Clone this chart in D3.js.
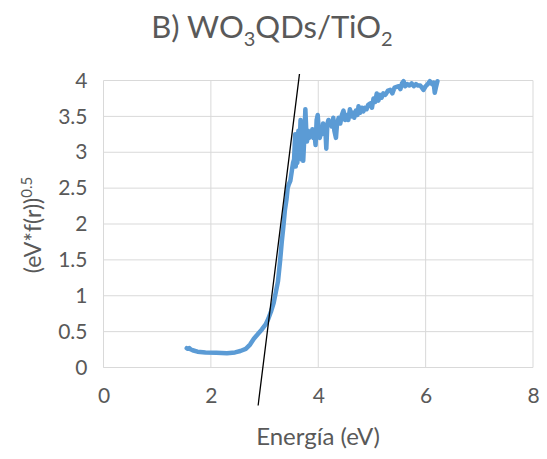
<!DOCTYPE html>
<html><head><meta charset="utf-8">
<script src="https://cdn.jsdelivr.net/npm/d3@7"></script>
<style>
body{margin:0;background:#fff;}
text{font-family:Lato,"Open Sans",sans-serif;fill:#595959;}
</style></head>
<body><svg id="c" width="547" height="459"></svg>
<script>
const energy = [1.55,1.57,1.6,1.63,1.66,1.75,1.9,2.1,2.3,2.45,2.55,2.65,2.73,2.8,2.88,2.95,3.02,3.07,3.12,3.17,3.21,3.25,3.29,3.32,3.35,3.38,3.41,3.43,3.45,3.48,3.51,3.53,
3.55,3.57,3.58,3.6,3.61,3.63,3.65,3.67,3.69,3.71,3.72,3.74,3.76,3.78,3.79,3.81,3.83,3.85,3.87,3.89,3.91,3.93,3.95,3.97,3.99,4.01,4.03,4.05,4.07,4.09,4.11,4.13,4.15,4.17,4.19,4.21,4.23,4.25,4.28,4.3,4.33,4.35,4.38,4.41,4.44,4.47,4.5,4.53,4.56,4.59,4.62,4.65,4.67,4.7,4.73,4.75,4.78,4.81,4.84,4.87,4.9,4.93,4.97,5.0,5.03,5.06,5.09,5.12,5.15,5.18,5.21,5.25,5.3,5.34,5.38,5.42,5.46,5.5,5.53,5.56,5.59,5.62,5.66,5.7,5.74,5.78,5.82,5.86,5.9,5.93,5.96,6.0,6.04,6.08,6.12,6.15,6.17,6.19,6.22];
const response = [0.27,0.26,0.27,0.25,0.24,0.22,0.21,0.205,0.2,0.21,0.23,0.26,0.32,0.4,0.47,0.53,0.6,0.68,0.78,0.9,1.05,1.2,1.49,1.75,1.96,2.2,2.35,2.5,2.55,2.6,2.75,2.85,
2.9,3.25,2.8,3.1,2.85,3.3,3.0,3.45,2.9,3.3,2.88,3.2,3.6,3.25,3.15,3.3,3.2,3.28,3.22,3.32,3.2,3.25,3.1,3.45,3.52,3.3,3.2,3.35,3.25,3.4,3.28,3.35,3.05,3.4,3.45,3.38,3.4,3.36,3.48,3.3,3.2,3.4,3.48,3.4,3.52,3.58,3.45,3.52,3.45,3.6,3.5,3.55,3.48,3.58,3.52,3.64,3.55,3.62,3.57,3.62,3.6,3.66,3.68,3.62,3.75,3.7,3.82,3.72,3.8,3.76,3.82,3.8,3.86,3.87,3.82,3.9,3.91,3.92,3.88,3.96,3.99,3.92,3.95,3.93,3.96,3.92,3.95,3.93,3.93,3.9,3.87,3.92,3.95,3.99,3.95,3.97,3.83,3.9,3.99];
const tangentX = [2.88, 3.65];
const tangentY = [-0.53, 4.09];
const xTicks = [0,2,4,6,8];
const yTicks = [0,0.5,1,1.5,2,2.5,3,3.5,4];

const svg = d3.select("#c");
const L=103.5, R=533, T=80.5, B=367.5;
const x = d3.scaleLinear().domain([0,8]).range([L,R]);
const y = d3.scaleLinear().domain([0,4]).range([B,T]);

// gridlines
svg.append("g").selectAll("line.h").data(yTicks).join("line")
  .attr("x1",L).attr("x2",R).attr("y1",d=>y(d)).attr("y2",d=>y(d))
  .attr("stroke","#d9d9d9").attr("stroke-width",1);
svg.append("g").selectAll("line.v").data(xTicks).join("line")
  .attr("x1",d=>x(d)).attr("x2",d=>x(d)).attr("y1",T).attr("y2",B)
  .attr("stroke","#d9d9d9").attr("stroke-width",1);

// axis tick labels
const xa = svg.append("g").attr("transform",`translate(0,${B})`)
  .call(d3.axisBottom(x).tickValues(xTicks).tickSize(0).tickPadding(21).tickFormat(d3.format("d")));
const ya = svg.append("g").attr("transform",`translate(${L},0)`)
  .call(d3.axisLeft(y).tickValues(yTicks).tickSize(0).tickPadding(16).tickFormat(d=>String(d)));
[xa,ya].forEach(a=>{a.select(".domain").remove();a.selectAll("text").style("font-size","21px").style("font-family","Lato").attr("fill","#595959");});
svg.append("line").attr("x1",L).attr("x2",R).attr("y1",B).attr("y2",B).attr("stroke","#d9d9d9");

// data line
const pts = energy.map((e,i)=>[e,response[i]]);
svg.append("path").datum(pts)
  .attr("d",d3.line().x(d=>x(d[0])).y(d=>y(d[1])).curve(d3.curveLinear))
  .attr("fill","none").attr("stroke","#5b9bd5").attr("stroke-width",4.5)
  .attr("stroke-linejoin","round").attr("stroke-linecap","round");

// tangent line
svg.append("line")
  .attr("x1",x(tangentX[0])).attr("y1",y(tangentY[0]))
  .attr("x2",x(tangentX[1])).attr("y2",y(tangentY[1]))
  .attr("stroke","#000").attr("stroke-width",1.3);

// title
const title = svg.append("text").attr("x",272).attr("y",38).attr("text-anchor","middle").style("font-size","31px");
title.append("tspan").text("B) WO");
title.append("tspan").text("3").attr("dy",8).style("font-size","20px");
title.append("tspan").text("QDs/TiO").attr("dy",-8);
title.append("tspan").text("2").attr("dy",8).style("font-size","20px");

// x axis title
svg.append("text").attr("x",318).attr("y",445).attr("text-anchor","middle").style("font-size","24px").text("Energía (eV)");

// y axis title
const yt = svg.append("text").attr("transform","translate(41,225) rotate(-90)").attr("text-anchor","middle").style("font-size","23px");
yt.append("tspan").text("(eV*f(r))");
yt.append("tspan").text("0.5").attr("dy",-9).style("font-size","15px");
</script></body></html>
